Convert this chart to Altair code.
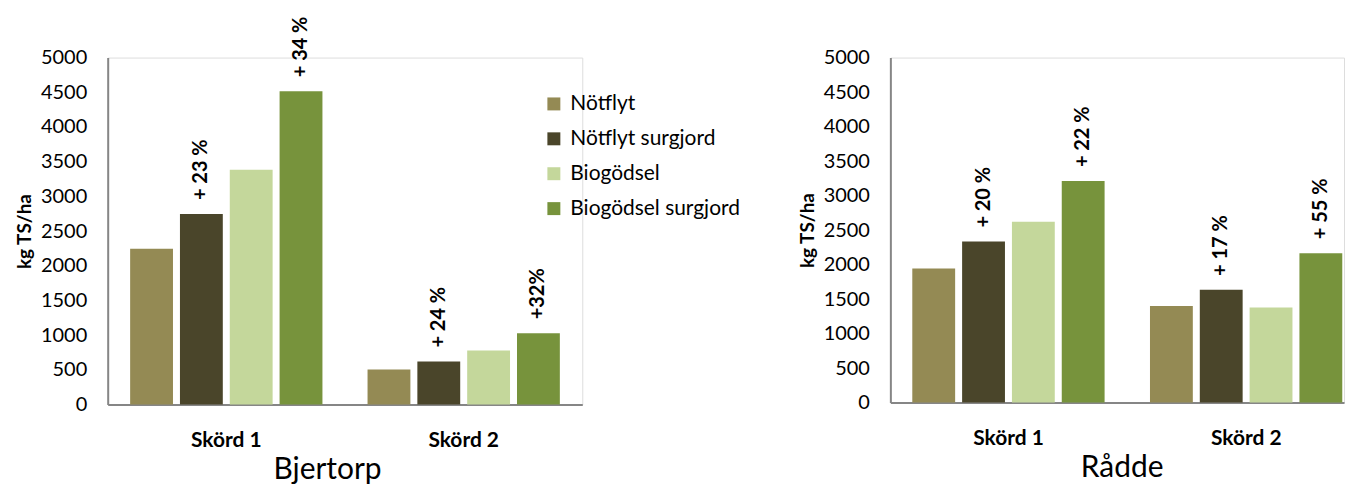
import altair as alt
import pandas as pd

harvests = ["Skörd 1", "Skörd 2"]
treatments = ["Nötflyt", "Nötflyt surgjord", "Biogödsel", "Biogödsel surgjord"]
colors = ["#948A54", "#4A452A", "#C4D79B", "#77933C"]

bjertorp_s1 = [2245, 2745, 3385, 4515]
bjertorp_s2 = [505, 620, 778, 1027]
radde_s1 = [1942, 2333, 2622, 3210]
radde_s2 = [1400, 1633, 1377, 2165]

bjertorp_labels_s1 = ["", "+ 23 %", "", "+ 34 %"]
bjertorp_labels_s2 = ["", "+ 24 %", "", "+32%"]
radde_labels_s1 = ["", "+ 20 %", "", "+ 22 %"]
radde_labels_s2 = ["", "+ 17 %", "", "+ 55 %"]

FONT = "Lato"
AXIS_GREY = "#868686"


def make_df(s1, s2, l1, l2):
    rows = []
    for h, vals, labs in ((harvests[0], s1, l1), (harvests[1], s2, l2)):
        for t, v, lab in zip(treatments, vals, labs):
            rows.append({"Skörd": h, "Behandling": t, "Värde": v, "Etikett": lab})
    return pd.DataFrame(rows)


def panel(site, df, width, height, pad_outer, align, title_x):
    base = alt.Chart(df).encode(
        x=alt.X(
            "Skörd:N",
            sort=harvests,
            scale=alt.Scale(paddingInner=0.19, paddingOuter=pad_outer, align=align),
            axis=alt.Axis(
                title=site,
                titleFontSize=30,
                titleFontWeight="normal",
                titleFont=FONT,
                titleColor="#000000",
                titlePadding=4,
                titleX=title_x,
                titleAlign="center",
                labelFontSize=21,
                labelFontWeight="bold",
                labelFont=FONT,
                labelColor="#000000",
                labelAngle=0,
                labelPadding=25,
                ticks=False,
                domainColor=AXIS_GREY,
                domainWidth=2,
                grid=False,
            ),
        ),
        xOffset=alt.XOffset(
            "Behandling:N",
            sort=treatments,
            scale=alt.Scale(paddingInner=0.14, paddingOuter=0),
        ),
        y=alt.Y(
            "Värde:Q",
            scale=alt.Scale(domain=[0, 5000], nice=False),
            axis=alt.Axis(
                title="kg TS/ha",
                titleFontSize=19,
                titleFontWeight="bold",
                titleFont=FONT,
                titleColor="#000000",
                titlePadding=6,
                values=list(range(0, 5001, 500)),
                format="d",
                labelFontSize=20,
                labelFont=FONT,
                labelColor="#000000",
                labelPadding=21,
                ticks=False,
                domainColor=AXIS_GREY,
                domainWidth=2,
                grid=False,
            ),
        ),
    )
    bars = base.mark_bar().encode(
        color=alt.Color(
            "Behandling:N",
            sort=treatments,
            scale=alt.Scale(domain=treatments, range=colors),
            legend=alt.Legend(
                title=None,
                orient="none",
                legendX=437,
                legendY=36,
                symbolType="square",
                symbolSize=169,
                symbolStrokeWidth=0,
                labelFontSize=21,
                labelFont=FONT,
                labelColor="#000000",
                labelOffset=6,
                labelLimit=0,
                rowPadding=13,
                padding=0,
            ),
        )
    )
    text = base.mark_text(
        angle=270,
        align="left",
        baseline="middle",
        dx=14,
        fontSize=20,
        fontWeight="bold",
        font=FONT,
        color="#000000",
    ).encode(text="Etikett:N")
    return alt.layer(bars, text).properties(width=width, height=height)


left = panel("Bjertorp", make_df(bjertorp_s1, bjertorp_s2, bjertorp_labels_s1, bjertorp_labels_s2),
             476, 348, 0.0945, 0.5, 220)
right = panel("Rådde", make_df(radde_s1, radde_s2, radde_labels_s1, radde_labels_s2),
              455, 346, 0.0493, 0.936, 232)

chart = (
    alt.hconcat(left, right, spacing=215)
    .properties(padding={"left": 7, "top": 7, "right": 0, "bottom": 0})
    .configure_view(stroke=None)
    .configure(background="#ffffff")
)

chart.save("out.html", embed_options={"renderer": "svg", "actions": False})
